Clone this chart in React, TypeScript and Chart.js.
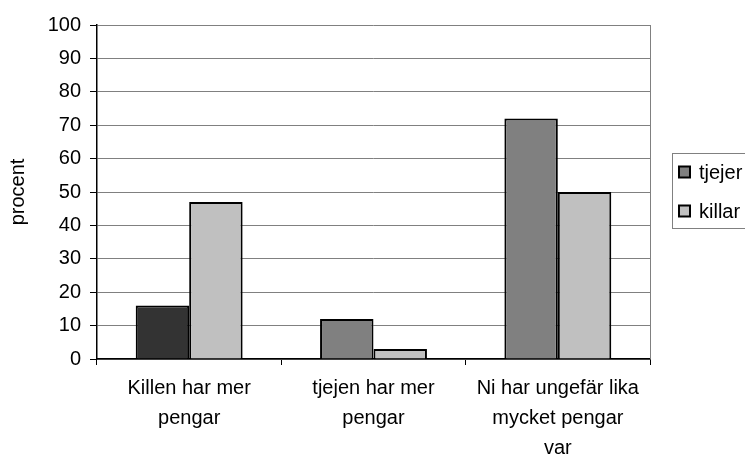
import { useEffect, useRef } from 'react';
import { Chart, registerables } from 'chart.js';

Chart.register(...registerables);

const categories: string[][] = [
  ['Killen har mer', 'pengar'],
  ['tjejen har mer', 'pengar'],
  ['Ni har ungefär lika', 'mycket pengar', 'var'],
];
const seriesNames = ['tjejer', 'killar'];
const tjejerValues = [16, 12, 72];
const killarValues = [47, 3, 50];
const tjejerColors = ['#333333', '#808080', '#808080'];
const tjejerLegendColor = '#808080';
const killarColor = '#c0c0c0';
const yAxisTitle = 'procent';
const yMin = 0;
const yMax = 100;
const yStep = 10;

const FONT = '"Liberation Sans", Arial, sans-serif';
const FS = 20;

const decorPlugin = {
  id: 'decor',
  afterDraw(chart: any) {
    const { ctx, chartArea } = chart;
    ctx.save();
    ctx.strokeStyle = '#808080';
    ctx.lineWidth = 1;
    ctx.beginPath();
    ctx.moveTo(Math.round(chartArea.right) + 0.5, chartArea.top);
    ctx.lineTo(Math.round(chartArea.right) + 0.5, chartArea.bottom);
    ctx.stroke();

    const lx = chartArea.right + 22;
    const ly = 153;
    const lw = 90;
    const lh = 75;
    ctx.strokeStyle = '#808080';
    ctx.strokeRect(lx + 0.5, ly + 0.5, lw, lh);
    const colors = [tjejerLegendColor, killarColor];
    const rows = [ly + 19, ly + 58];
    ctx.font = `${FS}px ${FONT}`;
    ctx.textBaseline = 'middle';
    ctx.textAlign = 'left';
    seriesNames.forEach((name, i) => {
      const cy = rows[i];
      ctx.fillStyle = colors[i];
      ctx.fillRect(lx + 7, cy - 5.5, 11, 11);
      ctx.strokeStyle = '#000000';
      ctx.lineWidth = 2;
      ctx.strokeRect(lx + 7, cy - 5.5, 11, 11);
      ctx.fillStyle = '#000000';
      ctx.fillText(name, lx + 27, cy + 1);
    });
    ctx.restore();
  },
};

export default function App() {
  const ref = useRef<HTMLCanvasElement | null>(null);
  useEffect(() => {
    document.body.style.margin = '0';
    const canvas = ref.current;
    if (!canvas) return;
    const chart = new Chart(canvas, {
      type: 'bar',
      data: {
        labels: categories as any,
        datasets: [
          {
            label: seriesNames[0],
            data: tjejerValues,
            backgroundColor: tjejerColors,
            borderColor: '#000000',
            borderWidth: 2,
            categoryPercentage: 0.58,
            barPercentage: 1,
          },
          {
            label: seriesNames[1],
            data: killarValues,
            backgroundColor: killarColor,
            borderColor: '#000000',
            borderWidth: 2,
            categoryPercentage: 0.58,
            barPercentage: 1,
          },
        ],
      },
      options: {
        responsive: false,
        animation: false,
        devicePixelRatio: 1,
        layout: { padding: { top: 25, right: 95, left: 0, bottom: 0 } },
        plugins: {
          legend: { display: false },
          tooltip: { enabled: false },
        },
        scales: {
          x: {
            grid: {
              offset: true,
              drawOnChartArea: false,
              drawTicks: true,
              tickLength: 6,
              color: '#000000',
            },
            border: { color: '#000000', width: 1.5 },
            ticks: {
              color: '#000000',
              font: { family: FONT, size: FS, lineHeight: 30 / FS },
              maxRotation: 0,
              minRotation: 0,
              autoSkip: false,
              padding: 8,
            },
            afterFit(scale: any) {
              scale.height = 100;
            },
          },
          y: {
            min: yMin,
            max: yMax,
            ticks: {
              stepSize: yStep,
              color: '#000000',
              font: { family: FONT, size: FS },
              padding: 9,
            },
            grid: {
              color: '#808080',
              tickColor: '#000000',
              tickLength: 7,
              drawTicks: true,
            },
            border: { color: '#000000', width: 1.5 },
            title: {
              display: true,
              text: yAxisTitle,
              color: '#000000',
              font: { family: FONT, size: FS },
              padding: { top: 6, bottom: 0 },
            },
            afterFit(scale: any) {
              scale.width = 97;
            },
          },
        },
      },
      plugins: [decorPlugin],
    });
    return () => chart.destroy();
  }, []);
  return (
    <div style={{ width: 745, height: 459, background: '#ffffff' }}>
      <canvas ref={ref} width={745} height={459} style={{ display: 'block' }} />
    </div>
  );
}
